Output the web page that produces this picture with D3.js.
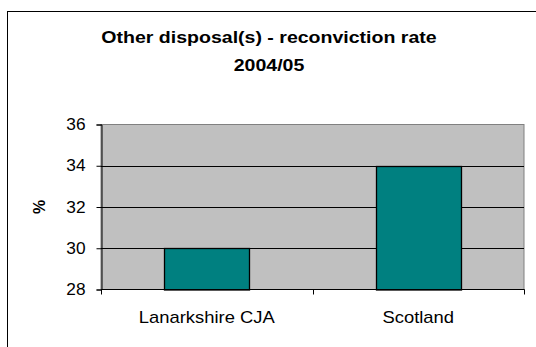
<!DOCTYPE html>
<html>
<head>
<meta charset="utf-8">
<script src="https://cdn.jsdelivr.net/npm/d3@7"></script>
<style>
  html, body { margin: 0; padding: 0; background: #fff; }
  svg { display: block; }
  text { font-family: "Liberation Sans", Arial, sans-serif; fill: #000; }
</style>
</head>
<body>
<svg id="chart" width="536" height="347"></svg>
<script>
// Reconviction rate by area, 2004/05
const categories = ["Lanarkshire CJA", "Scotland"];
const rates = [30, 34];
const yTicks = [28, 30, 32, 34, 36];
const titleLines = ["Other disposal(s) - reconviction rate", "2004/05"];
const yLabel = "%";

const svg = d3.select("#chart");
const W = 536, H = 347;
const plot = { left: 101, right: 524, top: 124.5, bottom: 289.5 };
const stretch = 1.15; // wide glyph rendering

// outer chart frame (extends past the window on right and bottom)
svg.append("rect")
  .attr("x", 7.5).attr("y", 11.5)
  .attr("width", W + 10).attr("height", H + 10)
  .attr("fill", "#fff").attr("stroke", "#000").attr("stroke-width", 1);

const x = d3.scaleBand().domain(categories).range([plot.left, plot.right])
  .paddingInner(0.6).paddingOuter(0.3);
const y = d3.scaleLinear().domain([28, 36]).range([plot.bottom, plot.top]);

// plot area background
svg.append("rect")
  .attr("x", plot.left).attr("y", plot.top)
  .attr("width", plot.right - plot.left).attr("height", plot.bottom - plot.top)
  .attr("fill", "#c0c0c0").attr("stroke", "#808080").attr("stroke-width", 1);

// horizontal gridlines
svg.append("g").selectAll("line")
  .data(yTicks.filter(t => t > 28 && t < 36))
  .join("line")
  .attr("x1", plot.left).attr("x2", plot.right)
  .attr("y1", d => Math.round(y(d)) + 0.5).attr("y2", d => Math.round(y(d)) + 0.5)
  .attr("stroke", "#000").attr("stroke-width", 1);

// bars
svg.append("g").selectAll("rect")
  .data(categories.map((c, i) => ({ c, v: rates[i] })))
  .join("rect")
  .attr("x", d => Math.round(x(d.c)) + 0.5)
  .attr("y", d => Math.round(y(d.v)) + 0.5)
  .attr("width", Math.round(x.bandwidth()))
  .attr("height", d => y(28) - Math.round(y(d.v)))
  .attr("fill", "#008080").attr("stroke", "#000").attr("stroke-width", 1.3);

// y axis
const yAxis = svg.append("g")
  .attr("transform", `translate(${plot.left + 0.5},0)`)
  .call(d3.axisLeft(y).tickValues(yTicks).tickSize(5).tickPadding(11).tickFormat(d3.format("d")));
yAxis.select(".domain").attr("stroke", "#000");
yAxis.selectAll(".tick line").attr("stroke", "#000");
yAxis.selectAll(".tick text")
  .attr("font-size", 16).attr("font-family", "Liberation Sans, Arial, sans-serif")
  .attr("fill", "#000")
  .attr("transform", function () {
    const xx = +d3.select(this).attr("x");
    return `translate(${xx},0) scale(1.08,1) translate(${-xx},0)`;
  });

// x axis: tick marks at category boundaries
const xAxisG = svg.append("g").attr("transform", `translate(0,${plot.bottom})`);
xAxisG.append("line")
  .attr("x1", plot.left).attr("x2", plot.right + 0.5)
  .attr("y1", 0).attr("y2", 0).attr("stroke", "#000");
const boundaries = [plot.left, (plot.left + plot.right) / 2, plot.right];
xAxisG.selectAll("line.tk").data(boundaries).join("line")
  .attr("class", "tk")
  .attr("x1", d => Math.round(d) + 0.5).attr("x2", d => Math.round(d) + 0.5)
  .attr("y1", 0).attr("y2", 5).attr("stroke", "#000");

// category labels
svg.append("g").selectAll("text")
  .data(categories).join("text")
  .attr("text-anchor", "middle")
  .attr("font-size", 16)
  .attr("transform", d => `translate(${x(d) + x.bandwidth() / 2},323) scale(${stretch},1)`)
  .text(d => d);

// y axis title
svg.append("text")
  .attr("text-anchor", "middle")
  .attr("font-size", 16).attr("font-weight", "bold")
  .attr("transform", "translate(45,207) rotate(-90)")
  .text(yLabel);

// chart title
svg.append("g").selectAll("text")
  .data(titleLines).join("text")
  .attr("text-anchor", "middle")
  .attr("font-size", 17).attr("font-weight", "bold")
  .attr("transform", (d, i) => `translate(269,${i === 0 ? 43 : 71}) scale(${stretch},1)`)
  .text(d => d);
</script>
</body>
</html>
